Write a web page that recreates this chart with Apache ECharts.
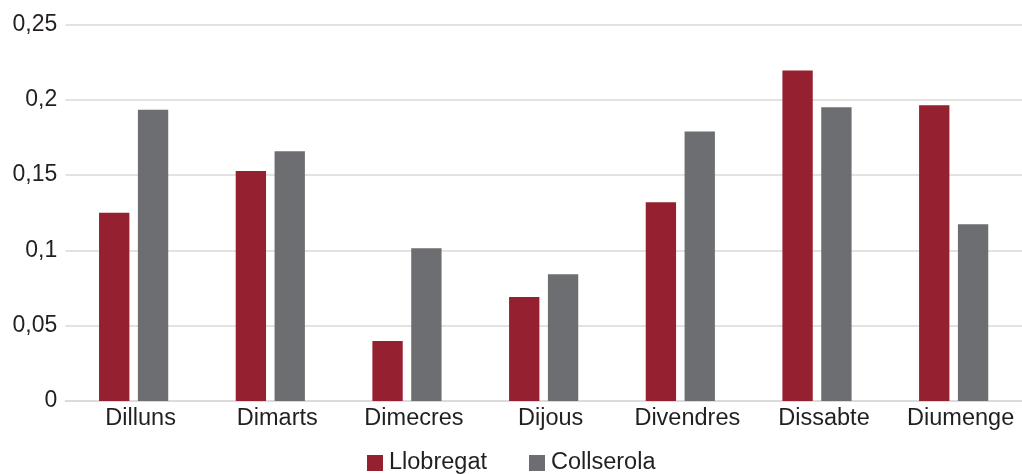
<!DOCTYPE html>
<html><head><meta charset="utf-8">
<script src="https://cdn.jsdelivr.net/npm/echarts@6/dist/echarts.min.js"></script>
<style>html,body{margin:0;padding:0;background:#fff}#c{width:1022px;height:474px}</style>
</head><body><div id="c"></div>
<script>
const categories = ['Dilluns','Dimarts','Dimecres','Dijous','Divendres','Dissabte','Diumenge'];
const llobregat = [0.125, 0.1527, 0.0398, 0.069, 0.132, 0.2195, 0.1963];
const collserola = [0.1934, 0.1658, 0.1015, 0.0842, 0.179, 0.195, 0.1174];
const seriesNames = ['Llobregat','Collserola'];

const chart = echarts.init(document.getElementById('c'));
const font = 'Liberation Sans, Arial, Helvetica, sans-serif';
chart.setOption({
  animation: false,
  color: ['#952030', '#6d6e71'],
  textStyle: {fontFamily: font},
  grid: {left: 65.3, right: -4.7, top: 24.5, bottom: 73, containLabel: false},
  legend: {
    top: 451, left: 367, itemWidth: 16, itemHeight: 16, itemGap: 42,
    icon: 'rect', padding: 0,
    textStyle: {fontSize: 23.5, color: '#231f20', fontFamily: font, padding: [0,0,0,1]},
    data: seriesNames
  },
  xAxis: {
    type: 'category', data: categories,
    axisLine: {show: true, lineStyle: {color: '#d9d9d9', width: 1.5}},
    axisTick: {show: false},
    axisLabel: {interval: 0, hideOverlap: false, fontSize: 23.5, color: '#231f20', margin: 6, fontFamily: font, padding: [0,0,0,14]}
  },
  yAxis: {
    type: 'value', min: 0, max: 0.25, interval: 0.05,
    axisLine: {show: false}, axisTick: {show: false},
    splitLine: {lineStyle: {color: '#d9d9d9', width: 1.5}},
    axisLabel: {fontSize: 23, color: '#231f20', margin: 8, fontFamily: font,
      formatter: v => String(Math.round(v*100)/100).replace('.', ',')}
  },
  series: [
    {name: seriesNames[0], type: 'bar', data: llobregat, barWidth: '22.2%', barGap: '28%'},
    {name: seriesNames[1], type: 'bar', data: collserola, barWidth: '22.2%', barGap: '28%'}
  ]
});
</script></body></html>
